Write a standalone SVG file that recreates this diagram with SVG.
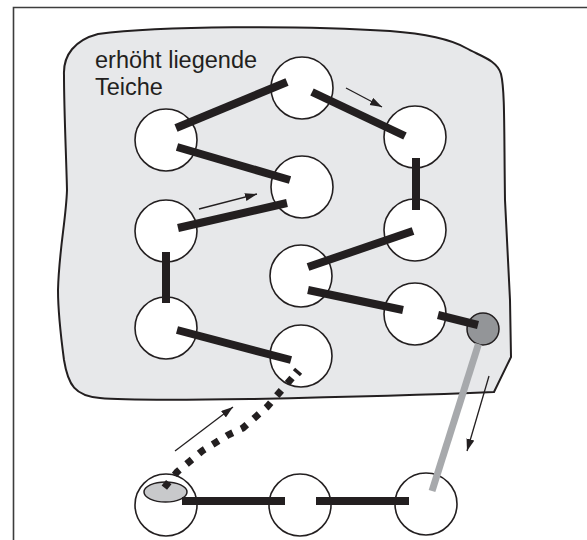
<svg xmlns="http://www.w3.org/2000/svg" width="587" height="540" viewBox="0 0 587 540">
  <style>
    .pond { fill: #ffffff; stroke: #231f20; stroke-width: 1.6; }
    .bar { stroke: #231f20; stroke-width: 8; stroke-linecap: butt; fill: none; }
    .flow { stroke: #231f20; stroke-width: 1.3; fill: none; marker-end: url(#ah); }
    .lbl { font-family: "Liberation Sans", Arial, sans-serif; font-size: 23.5px; fill: #231f20; }
  </style>
  <defs>
    <marker id="ah" markerUnits="userSpaceOnUse" markerWidth="13" markerHeight="9" refX="12" refY="4" orient="auto">
      <path d="M0,0 L12,4 L0,8 Z" fill="#231f20"/>
    </marker>
  </defs>
  <rect width="587" height="540" fill="#ffffff"/>
  <path d="M13.5,540 V7.5 H587" fill="none" stroke="#3d3d3d" stroke-width="1.6"/>
  <g id="area">
    <path d="M64,75 C63,55 75,40 98,34 C160,26 300,25 390,31 C430,34 452,40 466,48 C480,56 497,60 501,74 C505,90 504,130 505,200 L510,300 L511,357 L494,392 C400,396 300,398 250,399 C180,400 120,400 100,398 C75,396 68,385 64,360 C60,330 58,310 58,290 C59,250 66,220 67,190 C66,150 64,110 64,75 Z" fill="#e7e8ea" stroke="#231f20" stroke-width="2"/>
    <text class="lbl" x="95" y="68">erhöht liegende</text>
    <text class="lbl" x="95" y="95">Teiche</text>
  </g>
  <g id="n1"><circle class="pond" cx="166" cy="140" r="31"/></g>
  <g id="n2"><circle class="pond" cx="302" cy="88" r="31"/></g>
  <g id="n3"><circle class="pond" cx="415" cy="137" r="31"/></g>
  <g id="n4"><circle class="pond" cx="415" cy="230" r="31"/></g>
  <g id="n5"><circle class="pond" cx="302" cy="187" r="31"/></g>
  <g id="n6"><circle class="pond" cx="166" cy="231" r="31"/></g>
  <g id="n7"><circle class="pond" cx="166" cy="328" r="31"/></g>
  <g id="n8"><circle class="pond" cx="301" cy="276" r="31"/></g>
  <g id="n9"><circle class="pond" cx="301" cy="356" r="31"/></g>
  <g id="n10"><circle class="pond" cx="415" cy="314" r="31"/></g>
  <g id="outlet"><circle cx="483" cy="329" r="16" fill="#939598" stroke="#231f20" stroke-width="1.5"/></g>
  <g id="b1"><circle class="pond" cx="166" cy="505" r="31"/>
    <ellipse cx="165.5" cy="492" rx="21.5" ry="10" fill="#c8c9cb" stroke="#231f20" stroke-width="1.5"/></g>
  <g id="b2"><circle class="pond" cx="300" cy="505" r="31"/></g>
  <g id="b3"><circle class="pond" cx="426" cy="504" r="31"/></g>
  <g id="connectors">
    <line class="bar" x1="176" y1="128" x2="287" y2="82"/>
    <line class="bar" x1="177" y1="147" x2="290" y2="180"/>
    <line class="bar" x1="312" y1="92" x2="405" y2="136"/>
    <line class="bar" x1="416" y1="158" x2="416" y2="210" stroke-width="7"/>
    <line class="bar" x1="308" y1="267" x2="413" y2="231"/>
    <line class="bar" x1="308" y1="290" x2="403" y2="310"/>
    <line class="bar" x1="438" y1="315" x2="478" y2="325"/>
    <line class="bar" x1="178" y1="228" x2="287" y2="203"/>
    <line class="bar" x1="166" y1="252" x2="166" y2="303" stroke-width="7"/>
    <line class="bar" x1="177" y1="330" x2="291" y2="360"/>
    <line class="bar" x1="182" y1="501" x2="285" y2="501"/>
    <line class="bar" x1="316" y1="501" x2="409" y2="501"/>
    <line x1="478.5" y1="344" x2="432" y2="491" stroke="#a7a9ac" stroke-width="7"/>
    <line x1="294" y1="369" x2="301" y2="375" stroke="#231f20" stroke-width="3.5"/>
    <polyline points="292,378 267,407 243,428 228,435 202,451 177,472 164,488" fill="none" stroke="#231f20" stroke-width="7" stroke-dasharray="7 9.3"/>
    <line class="flow" x1="346" y1="88" x2="382" y2="107"/>
    <line class="flow" x1="199" y1="209" x2="257" y2="194"/>
    <line class="flow" x1="489" y1="376" x2="467" y2="451"/>
    <line class="flow" x1="175" y1="451" x2="233" y2="407"/>
  </g>
</svg>
